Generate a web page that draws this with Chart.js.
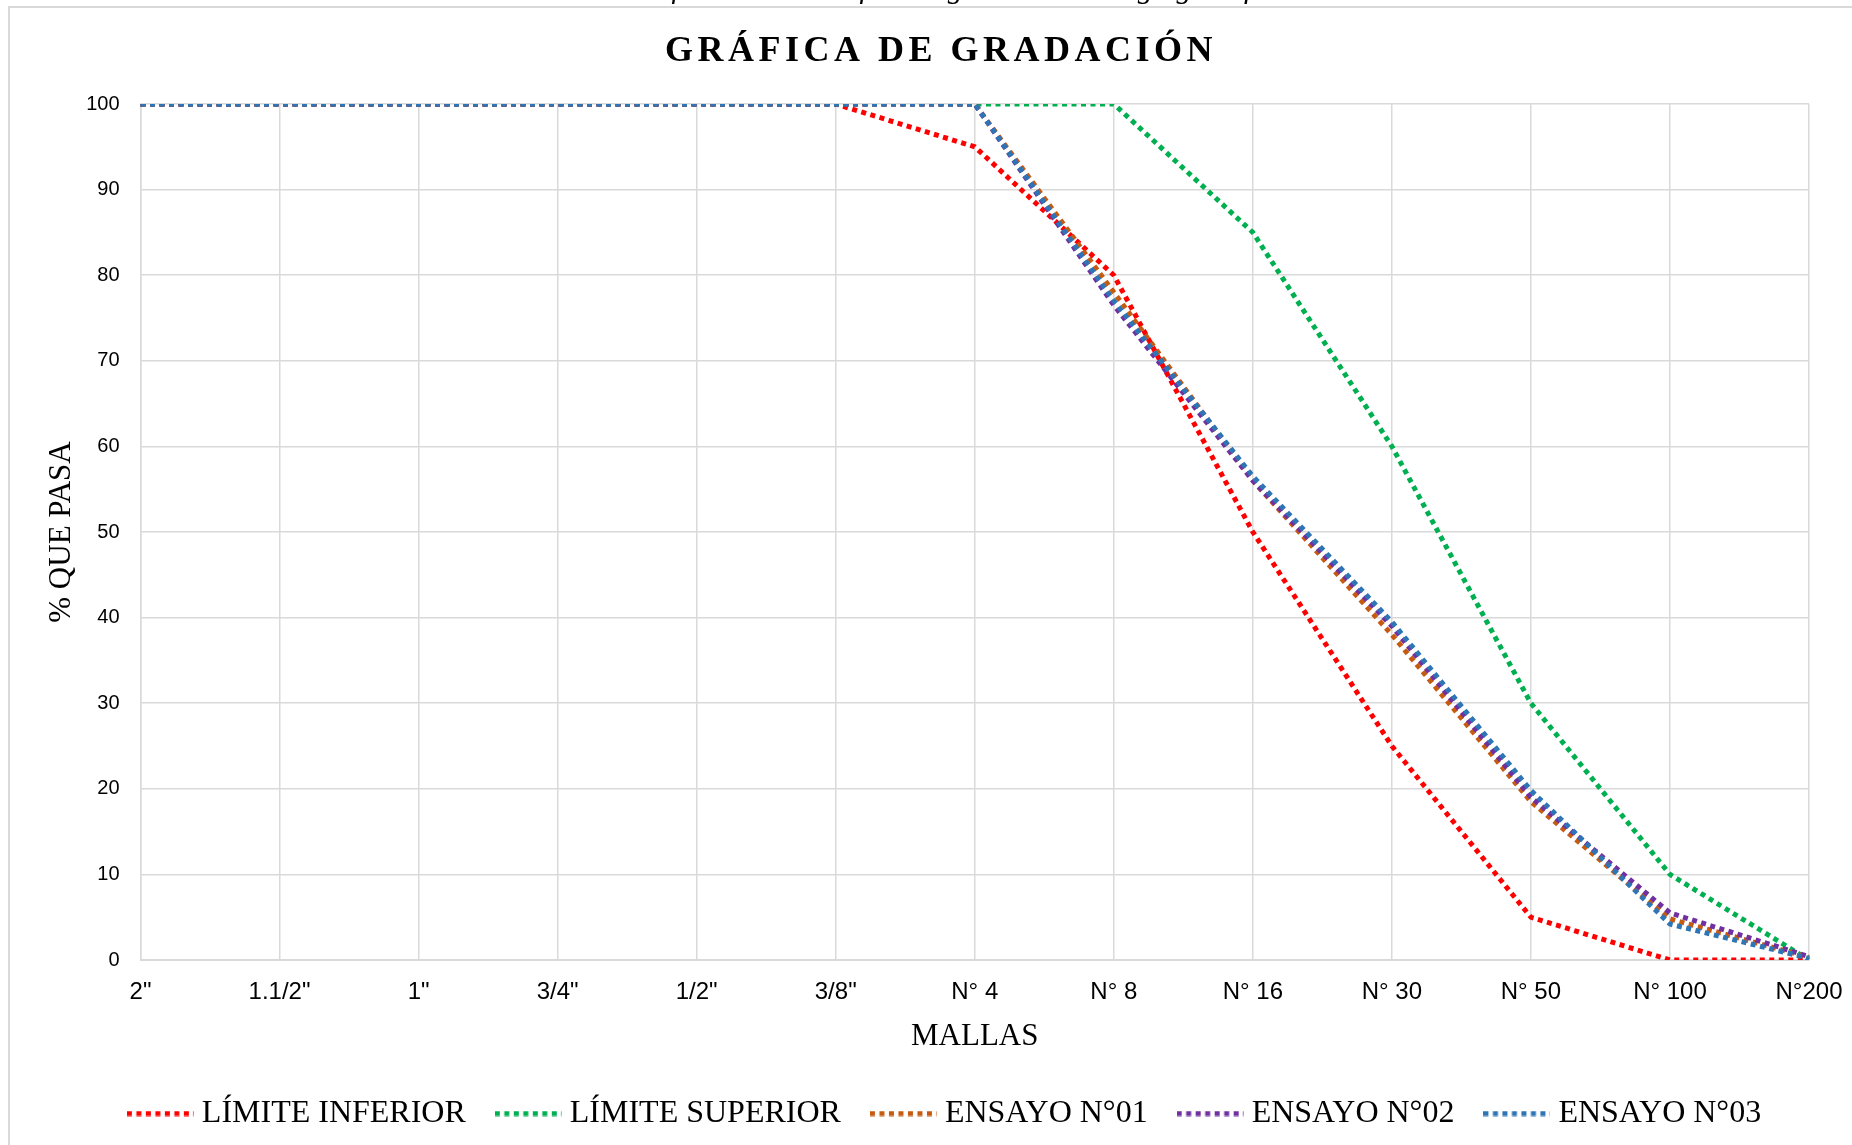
<!DOCTYPE html>
<html>
<head>
<meta charset="utf-8">
<script src="https://cdn.jsdelivr.net/npm/chart.js@4/dist/chart.umd.min.js"></script>
<style>
  html, body { margin: 0; padding: 0; background: #fff; }
  #wrap { width: 1852px; height: 1145px; }
</style>
</head>
<body>
<div id="wrap"><canvas id="gradacion"></canvas></div>
<script>
const mallas = ['2"', '1.1/2"', '1"', '3/4"', '1/2"', '3/8"', 'N° 4', 'N° 8', 'N° 16', 'N° 30', 'N° 50', 'N° 100', 'N°200'];
const limiteInferior = [100, 100, 100, 100, 100, 100, 95, 80, 50, 25, 5, 0, 0];
const limiteSuperior = [100, 100, 100, 100, 100, 100, 100, 100, 85, 60, 30, 10, 0];
const ensayo01 = [100, 100, 100, 100, 100, 100, 100, 78, 56, 38, 18.5, 4.8, 0.3];
const ensayo02 = [100, 100, 100, 100, 100, 100, 100, 76.5, 56, 39, 19, 5.5, 0.4];
const ensayo03 = [100, 100, 100, 100, 100, 100, 100, 77, 56.5, 39.5, 19.8, 4.2, 0.2];
const yTicks = [0, 10, 20, 30, 40, 50, 60, 70, 80, 90, 100];

const serif = '"Liberation Serif", "Times New Roman", serif';
const gridGray = '#d9d9d9';
const dash = [5, 4.5];

// muestra punteada para la leyenda (pointStyle como imagen)
function muestra(color) {
  const c = document.createElement('canvas');
  c.width = 67;
  c.height = 6;
  const g = c.getContext('2d');
  g.strokeStyle = color;
  g.lineWidth = 5;
  g.setLineDash(dash);
  g.beginPath();
  g.moveTo(0, 3);
  g.lineTo(67, 3);
  g.stroke();
  return c;
}

// marco, caption cortado y titulo con espaciado
const frame = {
  id: 'frame',
  afterLayout(chart) {
    // la leyenda del original esta algo corrida a la derecha
    chart.legend.left += 22;
    chart.legend.right += 22;
  },
  beforeDraw(chart) {
    const ctx = chart.ctx;
    ctx.save();
    ctx.fillStyle = '#fff';
    ctx.fillRect(0, 0, chart.width, chart.height);
    ctx.strokeStyle = gridGray;
    ctx.lineWidth = 2;
    ctx.strokeRect(9, 7, chart.width + 20, chart.height + 20);
    ctx.fillStyle = '#000';
    ctx.font = 'italic 30px ' + serif;
    ctx.textAlign = 'center';
    ctx.textBaseline = 'alphabetic';
    ctx.fillText('Gráfico N° 01: Gráfica de gradación del agregado fino', 957, -2);
    ctx.restore();
  },
  afterDraw(chart) {
    const ctx = chart.ctx;
    ctx.save();
    ctx.fillStyle = '#000';
    ctx.font = 'bold 36px ' + serif;
    ctx.letterSpacing = '4.5px';
    ctx.textAlign = 'center';
    ctx.textBaseline = 'middle';
    ctx.fillText('GRÁFICA DE GRADACIÓN', 941, 52);
    ctx.restore();
  }
};

function serie(label, data, color, order) {
  return {
    label: label,
    data: data,
    borderColor: color,
    backgroundColor: color,
    borderWidth: 5,
    borderDash: dash,
    borderCapStyle: 'butt',
    pointRadius: 0,
    pointStyle: muestra(color),
    tension: 0,
    order: order
  };
}

new Chart(document.getElementById('gradacion'), {
  type: 'line',
  data: {
    labels: mallas,
    datasets: [
      serie('LÍMITE INFERIOR', limiteInferior, '#ff0000', 4),
      serie('LÍMITE SUPERIOR', limiteSuperior, '#00b050', 3),
      serie('ENSAYO N°01', ensayo01, '#c55a11', 2),
      serie('ENSAYO N°02', ensayo02, '#7030a0', 1),
      serie('ENSAYO N°03', ensayo03, '#2e75b6', 0)
    ]
  },
  options: {
    responsive: true,
    maintainAspectRatio: false,
    animation: false,
    layout: { padding: { top: 104, left: 43, right: 43, bottom: 5.5 } },
    plugins: {
      title: { display: false },
      tooltip: { enabled: false },
      legend: {
        position: 'bottom',
        labels: {
          usePointStyle: true,
          pointStyleWidth: 51,
          padding: 37,
          color: '#000',
          font: { family: serif, size: 32 },
          sort: (a, b) => a.datasetIndex - b.datasetIndex
        }
      }
    },
    scales: {
      x: {
        type: 'category',
        offset: false,
        afterFit(scale) {
          scale.height = 100.5;
          scale.paddingLeft = 0;
          scale.paddingRight = 0;
        },
        grid: { color: gridGray, lineWidth: 1.5, drawTicks: false },
        border: { color: gridGray, width: 2 },
        ticks: {
          autoSkip: false,
          maxRotation: 0,
          padding: 18,
          color: '#000',
          font: { family: '"Liberation Sans", Arial, sans-serif', size: 24 }
        },
        title: {
          display: true,
          text: 'MALLAS',
          color: '#000',
          font: { family: serif, size: 31 },
          padding: { top: 0, bottom: 5 }
        }
      },
      y: {
        min: 0,
        max: 100,
        afterFit(scale) { scale.width = 97.5; },
        afterBuildTicks(scale) { scale.ticks = yTicks.map(v => ({ value: v })); },
        grid: { color: gridGray, lineWidth: 1.5, drawTicks: false },
        border: { color: gridGray, width: 1.5 },
        ticks: {
          padding: 21,
          color: '#000',
          font: { family: '"Liberation Sans", Arial, sans-serif', size: 20 }
        },
        title: {
          display: true,
          text: '% QUE PASA',
          color: '#000',
          font: { family: serif, size: 31 },
          padding: { top: 0, bottom: 0 }
        }
      }
    }
  },
  plugins: [frame]
});
</script>
</body>
</html>
